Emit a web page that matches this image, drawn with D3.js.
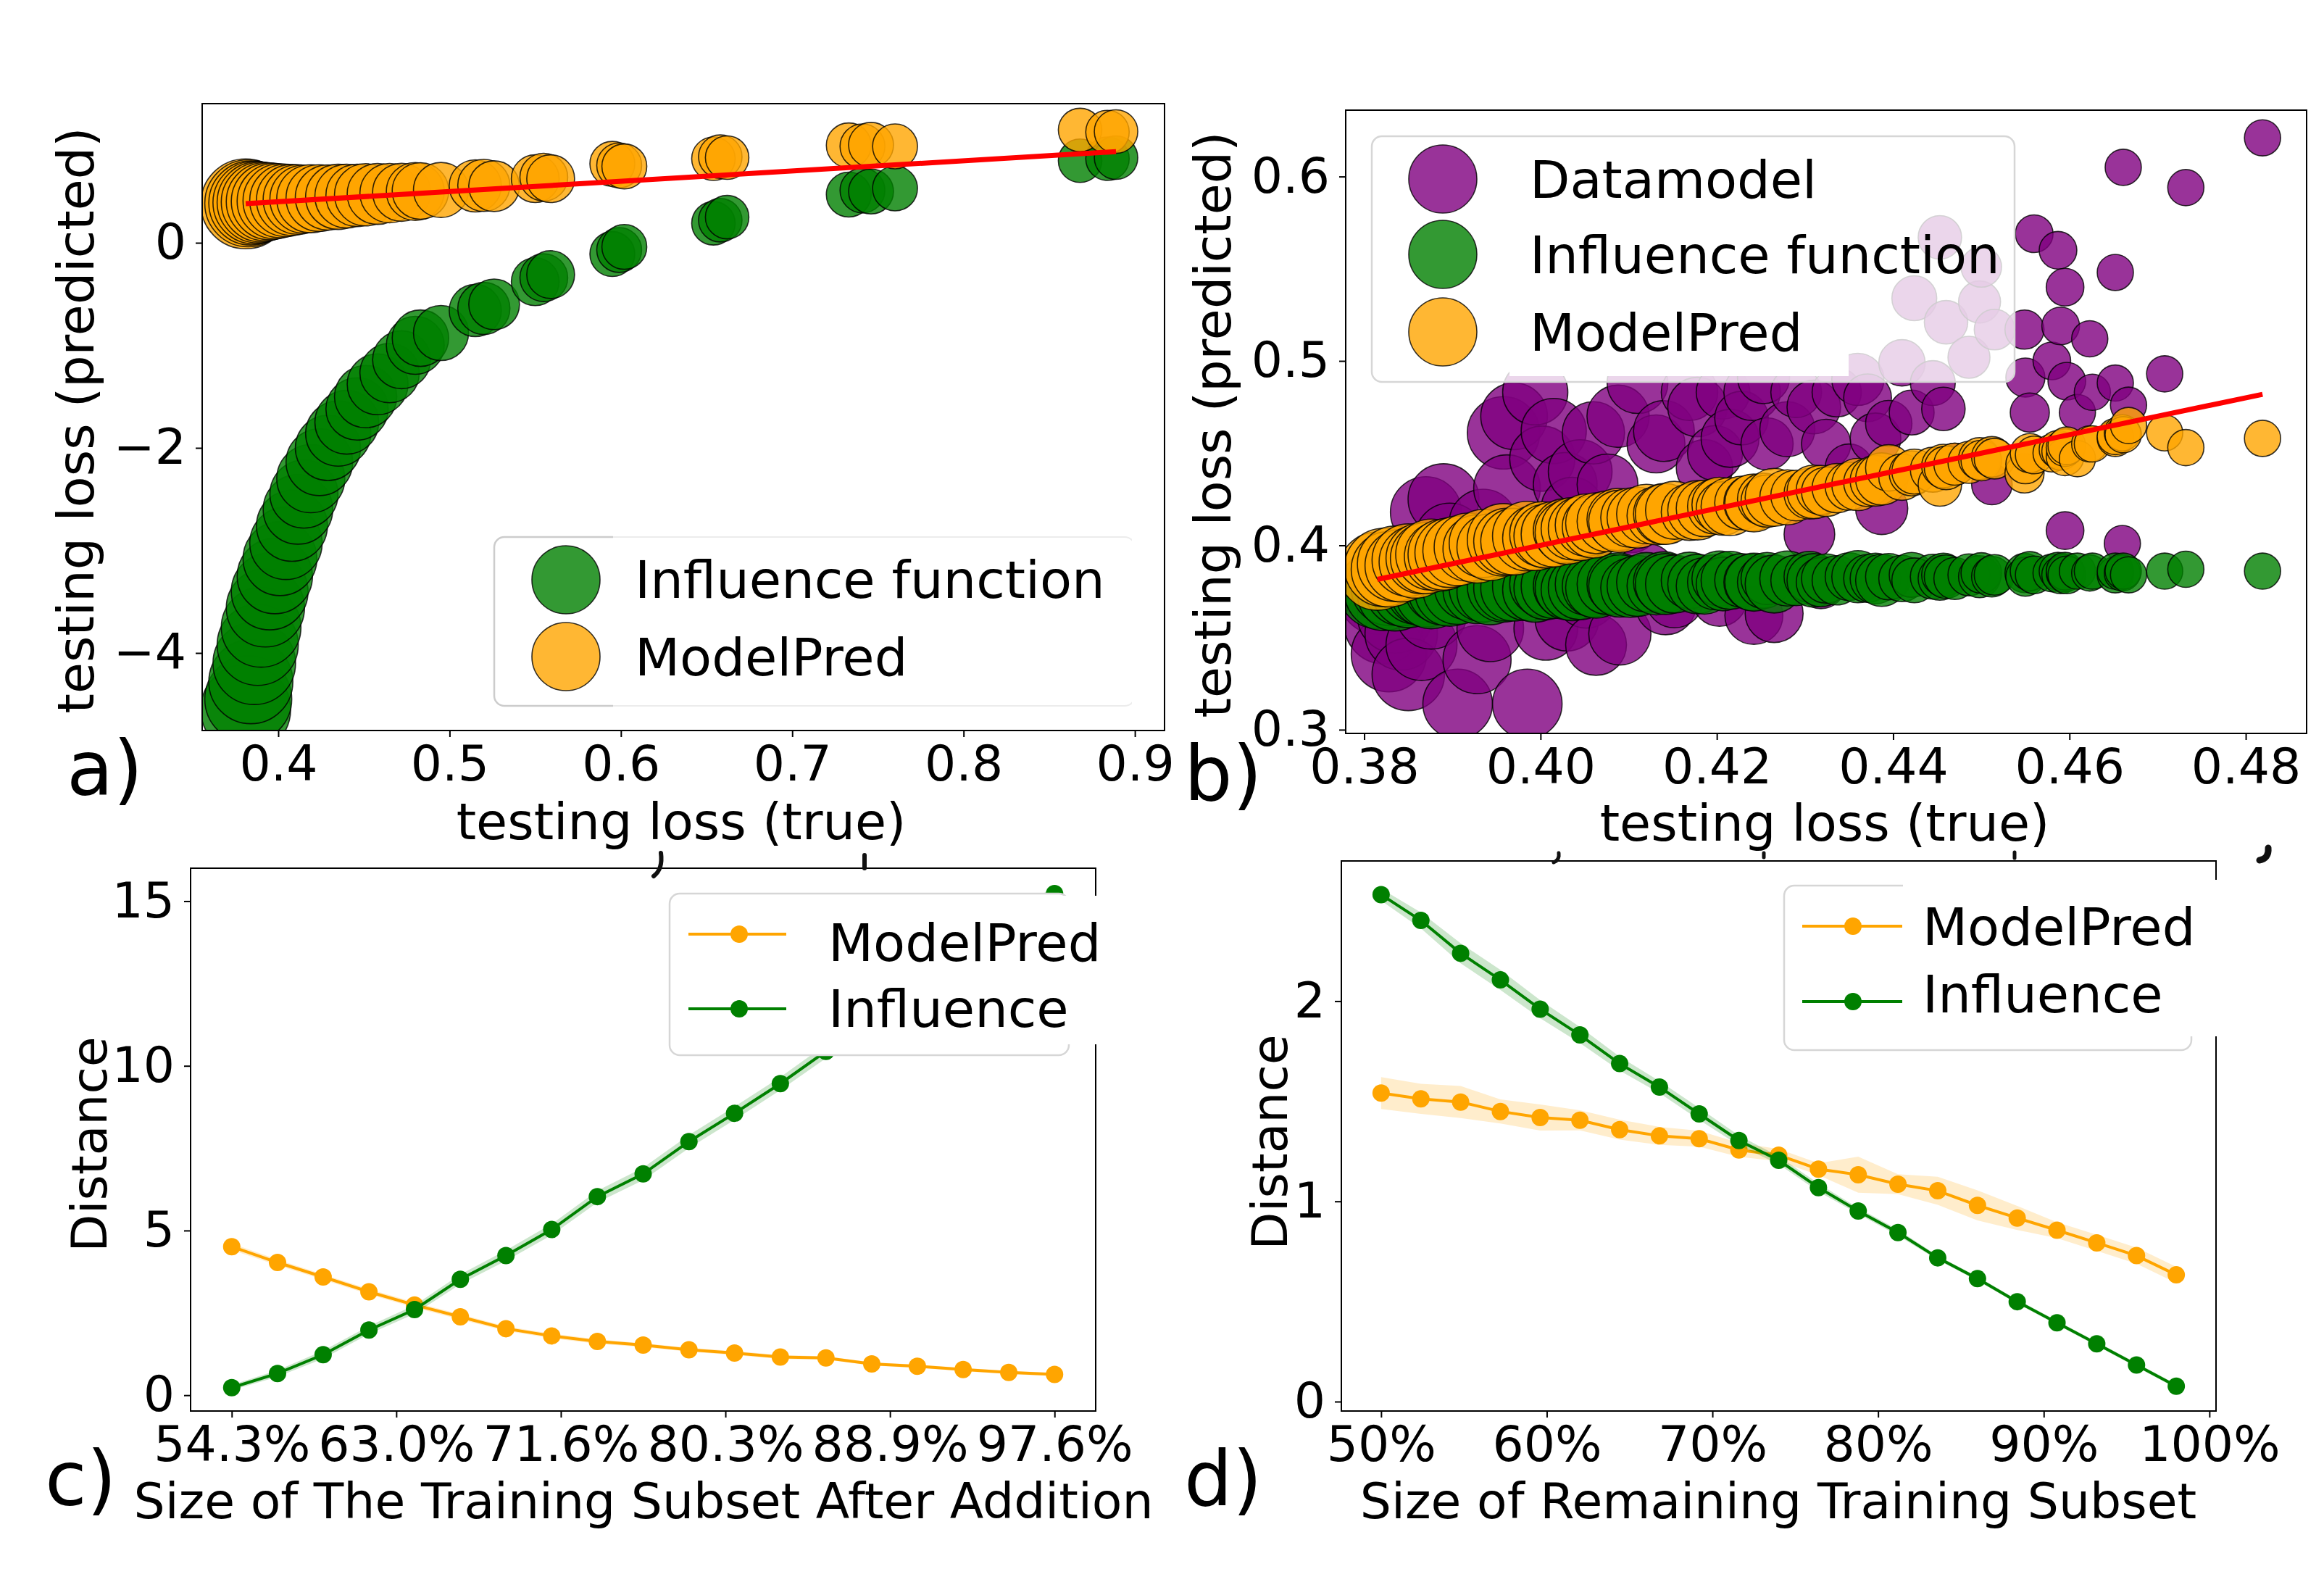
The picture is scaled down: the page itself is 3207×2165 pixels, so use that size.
<!DOCTYPE html>
<html><head><meta charset="utf-8">
<script src="https://cdn.jsdelivr.net/npm/d3@7"></script>
<style>
body{margin:0;background:#fff}
svg{display:block}
text{font-family:"DejaVu Sans",sans-serif;fill:#000}
</style>
</head><body>
<svg id="fig" width="3207" height="2165"></svg>
<script>
// ---------------- DATA ----------------
// Panel a: true testing loss vs predicted (Influence function, ModelPred); bubble size
const aTrue = [0.3810,0.3825,0.3840,0.3860,0.3880,0.3900,0.3925,0.3950,0.3980,0.4010,0.4045,0.4080,0.4115,0.4150,0.4190,0.4240,0.4290,0.4350,0.4400,0.4460,0.4510,0.4580,0.4650,0.4720,0.4800,0.4830,0.4950,0.5150,0.5200,0.5260,0.5500,0.5550,0.5590,0.5950,0.5990,0.6020,0.6540,0.6580,0.6620,0.7330,0.7410,0.7460,0.7600,0.8680,0.8840,0.8890];
const aInfluence = [-4.55,-4.45,-4.28,-4.10,-3.92,-3.75,-3.56,-3.40,-3.25,-3.08,-2.93,-2.76,-2.60,-2.45,-2.30,-2.14,-2.00,-1.86,-1.75,-1.62,-1.50,-1.38,-1.27,-1.14,-1.00,-0.93,-0.88,-0.66,-0.64,-0.60,-0.38,-0.34,-0.31,-0.11,-0.07,-0.04,0.19,0.22,0.25,0.47,0.51,0.50,0.53,0.80,0.82,0.83];
const aModelPred = [0.380,0.385,0.388,0.392,0.395,0.398,0.401,0.404,0.407,0.410,0.414,0.418,0.422,0.426,0.430,0.436,0.442,0.448,0.455,0.462,0.468,0.476,0.484,0.492,0.500,0.505,0.515,0.555,0.560,0.552,0.625,0.640,0.625,0.770,0.755,0.745,0.820,0.840,0.830,0.950,0.940,0.955,0.940,1.100,1.080,1.085];
const aSize = [961,900,841,812,784,756,729,702,676,650,625,600,576,552,552,529,506,506,484,462,462,441,420,400,400,380,361,324,324,306,272,272,272,240,240,240,225,225,225,240,240,240,240,225,225,225];

// Panel b: true testing loss vs predicted (Datamodel, Influence function, ModelPred); bubble size
const bTrue = [0.3815,0.3822,0.3828,0.3835,0.3842,0.3850,0.3858,0.3865,0.3876,0.3885,0.3897,0.3906,0.3918,0.3928,0.3935,0.3943,0.3958,0.3962,0.3985,0.3994,0.4002,0.4006,0.4028,0.4036,0.4052,0.4060,0.4063,0.4076,0.4102,0.4120,0.4131,0.4152,0.4169,0.4186,0.4198,0.4203,0.4207,0.4228,0.4253,0.4257,0.4265,0.4290,0.4305,0.4318,0.4324,0.4336,0.4350,0.4371,0.4387,0.4395,0.4410,0.4421,0.4424,0.4445,0.4453,0.4457,0.4460,0.4470,0.4486,0.4498,0.4500,0.4512,0.4515,0.4549,0.4550,0.4555,0.4560,0.4580,0.4587,0.4590,0.4595,0.4595,0.4597,0.4609,0.4623,0.4626,0.4652,0.4652,0.4660,0.4661,0.4667,0.4708,0.4732,0.4819,
  0.3970,0.4015,0.4045,0.4088,0.4110,0.4140,0.4178,0.4215,0.4240,0.4280,0.4310,0.4360,0.4380,0.4030,0.4090,0.4142,0.4242,0.3870,0.3890];
const bDatamodel = [0.373,0.357,0.341,0.362,0.352,0.330,0.378,0.346,0.363,0.390,0.404,0.314,0.385,0.338,0.412,0.355,0.461,0.431,0.314,0.483,0.447,0.355,0.433,0.420,0.372,0.461,0.346,0.433,0.412,0.385,0.455,0.371,0.483,0.442,0.450,0.371,0.483,0.469,0.491,0.455,0.363,0.483,0.406,0.379,0.455,0.483,0.442,0.480,0.420,0.466,0.499,0.472,0.534,0.488,0.567,0.474,0.521,0.444,0.502,0.532,0.551,0.433,0.517,0.517,0.491,0.472,0.569,0.500,0.560,0.519,0.540,0.408,0.489,0.472,0.512,0.483,0.548,0.488,0.401,0.605,0.476,0.493,0.594,0.621,
  0.470,0.462,0.440,0.470,0.488,0.462,0.475,0.458,0.483,0.463,0.475,0.490,0.458,0.360,0.352,0.368,0.362,0.418,0.425];
const bInfluence = [0.376,0.375,0.377,0.374,0.376,0.375,0.377,0.376,0.374,0.377,0.375,0.376,0.378,0.376,0.377,0.375,0.378,0.377,0.378,0.376,0.379,0.377,0.378,0.376,0.379,0.378,0.377,0.379,0.377,0.380,0.378,0.379,0.381,0.378,0.380,0.382,0.379,0.381,0.380,0.382,0.379,0.381,0.383,0.380,0.382,0.381,0.383,0.382,0.381,0.383,0.382,0.384,0.381,0.383,0.382,0.384,0.383,0.382,0.384,0.383,0.385,0.383,0.384,0.385,0.383,0.386,0.384,0.385,0.386,0.384,0.385,0.386,0.384,0.386,0.385,0.386,0.384,0.386,0.385,0.386,0.384,0.386,0.387,0.386,
  0.377,0.378,0.377,0.379,0.378,0.380,0.379,0.381,0.380,0.382,0.381,0.383,0.382,0.377,0.378,0.379,0.380,0.375,0.376];
const bModelPred = [0.386,0.388,0.387,0.390,0.389,0.392,0.391,0.393,0.395,0.394,0.396,0.397,0.399,0.398,0.401,0.399,0.403,0.402,0.405,0.404,0.406,0.405,0.408,0.409,0.411,0.410,0.412,0.413,0.415,0.417,0.416,0.419,0.418,0.420,0.421,0.422,0.420,0.423,0.425,0.424,0.426,0.427,0.428,0.430,0.429,0.431,0.432,0.434,0.436,0.442,0.437,0.439,0.440,0.441,0.433,0.443,0.442,0.444,0.445,0.447,0.446,0.448,0.447,0.439,0.444,0.450,0.449,0.450,0.452,0.451,0.448,0.453,0.454,0.447,0.455,0.455,0.458,0.459,0.461,0.460,0.465,0.461,0.453,0.458,
  0.402,0.406,0.409,0.414,0.415,0.417,0.419,0.421,0.423,0.426,0.429,0.433,0.435,0.407,0.413,0.417,0.423,0.393,0.395];
const bSize = [729,729,676,676,625,625,625,600,600,576,576,576,552,552,552,529,625,529,576,506,506,484,484,462,462,462,441,441,420,420,400,400,380,380,361,361,342,342,324,324,400,306,306,289,289,289,272,272,324,256,256,240,240,240,225,225,225,210,210,210,196,196,196,182,182,182,169,169,169,169,169,169,169,156,156,156,156,156,156,156,156,156,156,156,
  529,506,484,462,441,441,420,400,380,361,342,324,306,484,462,441,400,600,600];

// Panel c: distance vs size of training subset after addition
const cSubset = [54.3,56.71,59.11,61.52,63.92,66.33,68.73,71.14,73.54,75.95,78.36,80.76,83.17,85.57,87.98,90.38,92.79,95.19,97.6];
const cModelPred = [4.51,4.03,3.59,3.14,2.74,2.38,2.02,1.80,1.63,1.52,1.38,1.28,1.16,1.13,0.95,0.88,0.78,0.69,0.63];
const cModelPredSpread = [0.10,0.09,0.08,0.08,0.08,0.08,0.07,0.07,0.07,0.06,0.06,0.06,0.06,0.05,0.05,0.05,0.05,0.05,0.05];
const cInfluence = [0.23,0.66,1.23,1.98,2.60,3.52,4.24,5.03,6.03,6.72,7.70,8.56,9.46,10.44,11.40,12.35,13.30,14.25,15.23];
const cInfluenceSpread = [0.08,0.10,0.12,0.12,0.13,0.15,0.16,0.17,0.18,0.19,0.20,0.20,0.20,0.21,0.22,0.22,0.23,0.23,0.24];
const cTickValues = [54.3,62.96,71.62,80.28,88.94,97.6];
const cTickLabels = ["54.3%","63.0%","71.6%","80.3%","88.9%","97.6%"];

// Panel d: distance vs size of remaining training subset
const dSubset = [50,52.4,54.8,57.2,59.6,62,64.4,66.8,69.2,71.6,74,76.4,78.8,81.2,83.6,86,88.4,90.8,93.2,95.6,98];
const dModelPred = [1.541,1.512,1.496,1.449,1.419,1.405,1.358,1.327,1.313,1.257,1.231,1.161,1.133,1.086,1.053,0.980,0.917,0.856,0.793,0.729,0.633];
const dModelPredSpread = [0.08,0.075,0.08,0.06,0.065,0.05,0.05,0.045,0.04,0.035,0.03,0.03,0.09,0.05,0.07,0.075,0.06,0.04,0.04,0.04,0.04];
const dInfluence = [2.532,2.403,2.239,2.106,1.960,1.831,1.688,1.571,1.437,1.304,1.205,1.069,0.952,0.844,0.718,0.614,0.499,0.394,0.289,0.183,0.077];
const dInfluenceSpread = [0.03,0.04,0.05,0.05,0.045,0.04,0.035,0.03,0.03,0.025,0.02,0.02,0.015,0.015,0.01,0.01,0.01,0.01,0.01,0.01,0.01];
const dTickValues = [50,60,70,80,90,100];
const dTickLabels = ["50%","60%","70%","80%","90%","100%"];

const aXTicks = [0.4,0.5,0.6,0.7,0.8,0.9];
const aXTickLabels = ["0.4","0.5","0.6","0.7","0.8","0.9"];
const aYTicks = [0,-2,-4];
const aYTickLabels = ["0","\u22122","\u22124"];
const bXTicks = [0.38,0.40,0.42,0.44,0.46,0.48];
const bXTickLabels = ["0.38","0.40","0.42","0.44","0.46","0.48"];
const bYTicks = [0.3,0.4,0.5,0.6];
const bYTickLabels = ["0.3","0.4","0.5","0.6"];
const cYTicks = [0,5,10,15];
const cYTickLabels = ["0","5","10","15"];
const dYTicks = [0,1,2];
const dYTickLabels = ["0","1","2"];

// ---------------- STYLE ----------------
const COL = {orange:"#ffa500", green:"#008000", purple:"#800080", red:"#ff0000"};
const TICK_FS = 68, LABEL_AB_FS = 70, LABEL_CD_FS = 68, LEG_FS = 72, LETTER_FS = 105;

const svg = d3.select("#fig");
svg.append("rect").attr("width",3207).attr("height",2165).attr("fill","#fff");
const defs = svg.append("defs");

function makePanel(id, box, xd, yd){
  const x = d3.scaleLinear().domain(xd).range([box.l, box.r]);
  const y = d3.scaleLinear().domain(yd).range([box.b, box.t]);
  defs.append("clipPath").attr("id", id).append("rect")
    .attr("x", box.l).attr("y", box.t).attr("width", box.r-box.l).attr("height", box.b-box.t);
  const root = svg.append("g");
  const plot = root.append("g").attr("clip-path", `url(#${id})`);
  return {x, y, box, root, plot};
}

function drawAxes(p, xt, xl, yt, yl){
  const gx = p.root.append("g").attr("transform", `translate(0,${p.box.b})`)
    .call(d3.axisBottom(p.x).tickValues(xt).tickFormat((d,i)=>xl[i]).tickSize(9).tickPadding(12));
  const gy = p.root.append("g").attr("transform", `translate(${p.box.l},0)`)
    .call(d3.axisLeft(p.y).tickValues(yt).tickFormat((d,i)=>yl[i]).tickSize(9).tickPadding(13));
  [gx, gy].forEach(g=>{
    g.select(".domain").remove();
    g.selectAll(".tick line").attr("stroke","#000").attr("stroke-width",2);
    g.selectAll(".tick text").attr("font-size",TICK_FS).attr("font-family","DejaVu Sans").attr("fill","#000");
  });
  p.root.append("rect").attr("x",p.box.l).attr("y",p.box.t)
    .attr("width",p.box.r-p.box.l).attr("height",p.box.b-p.box.t)
    .attr("fill","none").attr("stroke","#000").attr("stroke-width",2);
}

// draws points in increasing x order (as the original collection appears)
function scatter(p, xs, ys, sizes, color, rScale){
  const order = d3.range(xs.length).sort((i,j)=>xs[i]-xs[j]);
  p.plot.append("g").selectAll("circle").data(order).join("circle")
    .attr("cx",i=>p.x(xs[i])).attr("cy",i=>p.y(ys[i])).attr("r",i=>rScale(sizes[i]))
    .attr("fill",color).attr("fill-opacity",0.8)
    .attr("stroke","#000").attr("stroke-opacity",0.8).attr("stroke-width",1.6);
}

function identityLine(p, xs){
  const ext = d3.extent(xs);
  p.plot.append("path").datum(ext)
    .attr("d", d3.line().x(d=>p.x(d)).y(d=>p.y(d)))
    .attr("stroke",COL.red).attr("stroke-width",7).attr("fill","none");
}

function bandLine(p, xs, ys, spread, color){
  const area = d3.area().x((d)=>p.x(d)).y0((d,i)=>p.y(ys[i]-spread[i])).y1((d,i)=>p.y(ys[i]+spread[i]));
  p.plot.append("path").datum(xs).attr("d",area).attr("fill",color).attr("fill-opacity",0.2).attr("stroke","none");
  const line = d3.line().x((d)=>p.x(d)).y((d,i)=>p.y(ys[i]));
  p.plot.append("path").datum(xs).attr("d",line).attr("fill","none").attr("stroke",color).attr("stroke-width",4);
  p.plot.append("g").selectAll("circle").data(xs).join("circle")
    .attr("cx",d=>p.x(d)).attr("cy",(d,i)=>p.y(ys[i])).attr("r",12).attr("fill",color);
}

function text(x, y, s, fs, opts={}){
  const t = svg.append("text").attr("x",x).attr("y",y).attr("font-size",fs).text(s);
  if(opts.anchor) t.attr("text-anchor",opts.anchor);
  if(opts.rotate) t.attr("transform",`rotate(-90,${x},${y})`);
  return t;
}

const rScale = d3.scaleSqrt().domain([0,961]).range([0,62]);

// ---------------- PANEL A ----------------
const A = makePanel("clipA", {l:279,t:143,r:1607,b:1008}, [0.3556,0.9173], [-4.756,1.357]);
scatter(A, aTrue, aInfluence, aSize, COL.green, rScale);
scatter(A, aTrue, aModelPred, aSize, COL.orange, rScale);
identityLine(A, aTrue);
drawAxes(A, aXTicks, aXTickLabels, aYTicks, aYTickLabels);

// ---------------- PANEL B ----------------
const B = makePanel("clipB", {l:1857,t:152,r:3183,b:1012}, [0.3779,0.4869], [0.298,0.636]);
scatter(B, bTrue, bDatamodel, bSize, COL.purple, rScale);
scatter(B, bTrue, bInfluence, bSize, COL.green, rScale);
scatter(B, bTrue, bModelPred, bSize, COL.orange, rScale);
identityLine(B, bTrue);
drawAxes(B, bXTicks, bXTickLabels, bYTicks, bYTickLabels);

// ---------------- PANEL C ----------------
const C = makePanel("clipC", {l:263,t:1198,r:1512,b:1947}, [52.135,99.765], [-0.48,16.0]);
bandLine(C, cSubset, cModelPred, cModelPredSpread, COL.orange);
bandLine(C, cSubset, cInfluence, cInfluenceSpread, COL.green);
drawAxes(C, cTickValues, cTickLabels, cYTicks, cYTickLabels);

// ---------------- PANEL D ----------------
const D = makePanel("clipD", {l:1851,t:1188,r:3058,b:1947}, [47.6,100.4], [-0.047,2.70]);
bandLine(D, dSubset, dModelPred, dModelPredSpread, COL.orange);
bandLine(D, dSubset, dInfluence, dInfluenceSpread, COL.green);
drawAxes(D, dTickValues, dTickLabels, dYTicks, dYTickLabels);

// ---------------- AXIS LABELS ----------------
text(129, 580, "testing loss (predicted)", LABEL_AB_FS, {anchor:"middle", rotate:true});
text(940, 1158, "testing loss (true)", LABEL_AB_FS, {anchor:"middle"});
text(1698, 586, "testing loss (predicted)", LABEL_AB_FS, {anchor:"middle", rotate:true});
text(2518, 1160, "testing loss (true)", LABEL_AB_FS, {anchor:"middle"});
text(147, 1579, "Distance", LABEL_CD_FS, {anchor:"middle", rotate:true});
text(888, 2095, "Size of The Training Subset After Addition", LABEL_CD_FS, {anchor:"middle"});
text(1776, 1576, "Distance", LABEL_CD_FS, {anchor:"middle", rotate:true});
text(2454, 2095, "Size of Remaining Training Subset", LABEL_CD_FS, {anchor:"middle"});

// panel letters
text(92, 1097, "a)", LETTER_FS);
text(1634, 1104, "b)", LETTER_FS);
text(62, 2077, "c)", LETTER_FS);
text(1634, 2077, "d)", LETTER_FS);

// small glyph fragments peeking out between the two rows of panels
const frag = svg.append("g").attr("fill","none").attr("stroke","#111").attr("stroke-linecap","round");
frag.append("path").attr("d","M912,1177 C914,1192 910,1203 902,1209").attr("stroke-width",6);
frag.append("path").attr("d","M1193,1180 L1193,1198").attr("stroke-width",6);
frag.append("path").attr("d","M2151,1177 C2152,1184 2149,1188 2144,1190").attr("stroke-width",5);
frag.append("path").attr("d","M2434,1177 L2434,1183").attr("stroke-width",5);
frag.append("path").attr("d","M2780,1176 L2780,1184").attr("stroke-width",5);
frag.append("path").attr("d","M3130,1170 C3131,1180 3126,1186 3118,1187").attr("stroke-width",9);

// ---------------- LEGENDS ----------------
function legendCircle(cx, cy, color){
  svg.append("circle").attr("cx",cx).attr("cy",cy).attr("r",47)
    .attr("fill",color).attr("fill-opacity",0.8).attr("stroke","#000").attr("stroke-opacity",0.8).attr("stroke-width",1.6);
}
function legendLine(x0, x1, xm, cy, color){
  svg.append("line").attr("x1",x0).attr("x2",x1).attr("y1",cy).attr("y2",cy).attr("stroke",color).attr("stroke-width",4);
  svg.append("circle").attr("cx",xm).attr("cy",cy).attr("r",12).attr("fill",color);
}

// legend a
defs.append("clipPath").attr("id","legAL").append("rect").attr("x",670).attr("y",730).attr("width",176).attr("height",260);
defs.append("clipPath").attr("id","legAR").append("rect").attr("x",846).attr("y",730).attr("width",716).attr("height",260);
svg.append("rect").attr("x",682).attr("y",741).attr("width",884).attr("height",233).attr("rx",14)
  .attr("fill","#fff").attr("fill-opacity",0.8);
svg.append("rect").attr("x",682).attr("y",741).attr("width",884).attr("height",233).attr("rx",14)
  .attr("fill","none").attr("stroke","#cccccc").attr("stroke-width",2.5).attr("clip-path","url(#legAL)");
svg.append("rect").attr("x",682).attr("y",741).attr("width",884).attr("height",233).attr("rx",14)
  .attr("fill","none").attr("stroke","#ececec").attr("stroke-width",2).attr("clip-path","url(#legAR)");
legendCircle(781, 800, COL.green);
legendCircle(781, 906, COL.orange);
text(876, 825, "Influence function", LEG_FS);
text(876, 932, "ModelPred", LEG_FS);

// legend b
svg.append("rect").attr("x",1893).attr("y",188).attr("width",887).attr("height",339).attr("rx",14)
  .attr("fill","#fff").attr("fill-opacity",0.8).attr("stroke","#d6d6d6").attr("stroke-width",2.5);
svg.append("rect").attr("x",2083).attr("y",425).attr("width",468).attr("height",94).attr("fill","#fff");
legendCircle(1991, 247, COL.purple);
legendCircle(1991, 351, COL.green);
legendCircle(1991, 458, COL.orange);
text(2111, 273, "Datamodel", LEG_FS);
text(2111, 377, "Influence function", LEG_FS);
text(2111, 484, "ModelPred", LEG_FS);

// legend c
svg.append("rect").attr("x",924).attr("y",1233).attr("width",551).attr("height",223).attr("rx",14)
  .attr("fill","#fff").attr("stroke","#d6d6d6").attr("stroke-width",2.5);
svg.append("rect").attr("x",1462).attr("y",1236).attr("width",56).attr("height",205).attr("fill","#fff");
legendLine(950, 1085, 1020, 1289, COL.orange);
legendLine(950, 1085, 1020, 1392, COL.green);
text(1143, 1326, "ModelPred", LEG_FS);
text(1143, 1417, "Influence", LEG_FS);

// legend d
svg.append("rect").attr("x",2462).attr("y",1222).attr("width",562).attr("height",227).attr("rx",14)
  .attr("fill","#fff").attr("stroke","#d6d6d6").attr("stroke-width",2.5);
svg.append("rect").attr("x",2626).attr("y",1214).attr("width",438).attr("height",216).attr("fill","#fff");
legendLine(2487, 2625, 2557, 1278, COL.orange);
legendLine(2487, 2625, 2557, 1382, COL.green);
text(2653, 1304, "ModelPred", LEG_FS);
text(2653, 1397, "Influence", LEG_FS);
</script>
</body></html>
